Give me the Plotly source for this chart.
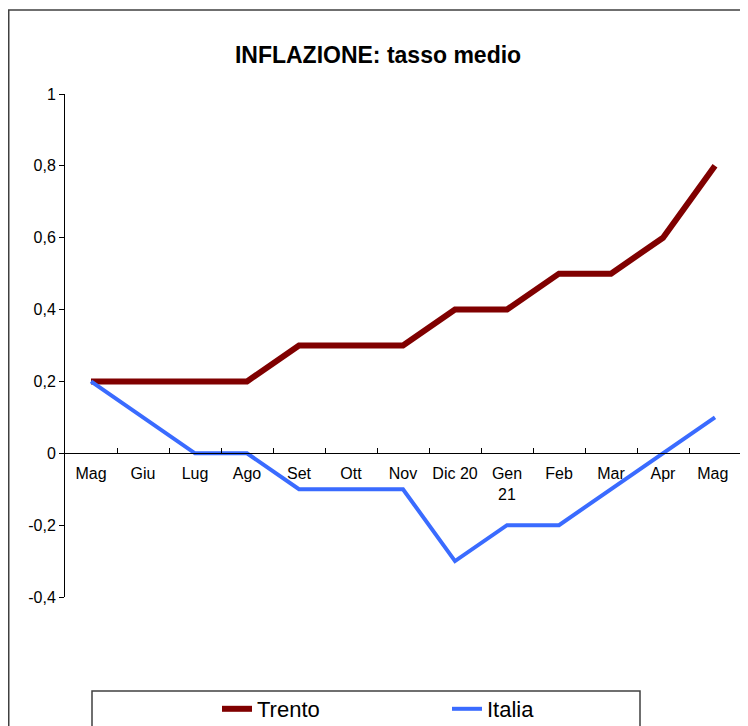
import plotly.graph_objects as go

months = ["Mag", "Giu", "Lug", "Ago", "Set", "Ott", "Nov", "Dic 20", "Gen<br>21", "Feb", "Mar", "Apr", "Mag "]
trento = [0.2, 0.2, 0.2, 0.2, 0.3, 0.3, 0.3, 0.4, 0.4, 0.5, 0.5, 0.6, 0.8]
italia = [0.2, 0.1, 0.0, 0.0, -0.1, -0.1, -0.1, -0.3, -0.2, -0.2, -0.1, 0.0, 0.1]
ytick_vals = [-0.4, -0.2, 0, 0.2, 0.4, 0.6, 0.8, 1]
ytick_text = ["-0,4", "-0,2", "0", "0,2", "0,4", "0,6", "0,8", "1"]

OFF = 8  # page offset of the figure in the browser window
W, H = 748, 726
L, R, T, B = 65 - OFF, 741 - OFF, 94 - OFF, 597 - OFF
ymin, ymax = -0.4, 1.0

def px_x(p):
    p = p - OFF
    return (p - L) / (R - L)

def px_y(p):
    p = p - OFF
    return (B - p) / (B - T)

fig = go.Figure()
fig.add_trace(go.Scatter(x=months, y=trento, mode="lines", name="Trento",
                         line=dict(color="#800000", width=6)))
fig.add_trace(go.Scatter(x=months, y=italia, mode="lines", name="Italia",
                         line=dict(color="#3A6BFF", width=4)))

xpos = (0 - ymin) / (ymax - ymin)

fig.update_layout(
    width=W, height=H,
    margin=dict(l=L, r=W - R, t=T, b=H - B, autoexpand=False),
    paper_bgcolor="white", plot_bgcolor="white",
    font=dict(family="Arial, Liberation Sans, sans-serif", color="black", size=16),
    title=dict(text="<b>INFLAZIONE: tasso medio</b>", x=(378 - OFF) / W, xanchor="center",
               y=1 - (55 - OFF) / H, yanchor="middle", font=dict(size=23)),
    showlegend=True,
    legend=dict(orientation="h", x=px_x(217), xanchor="left", y=px_y(709), yanchor="middle",
                font=dict(size=22), entrywidth=185, entrywidthmode="pixels",
                bgcolor="rgba(0,0,0,0)", borderwidth=0, tracegroupgap=0),
    xaxis=dict(type="category", range=[-0.5, 12.5], showline=True, linecolor="black",
               linewidth=1, ticks="inside", ticklen=5, tickcolor="black",
               tickson="boundaries", showgrid=False, zeroline=False,
               anchor="free", position=xpos, tickfont=dict(size=16),
               tickangle=0, ticklabelstandoff=6),
    yaxis=dict(range=[ymin, ymax], tickvals=ytick_vals, ticktext=ytick_text,
               showline=True, linecolor="black", linewidth=1, ticks="outside",
               ticklen=5, tickcolor="black", showgrid=False, zeroline=False,
               tickfont=dict(size=16)),
    shapes=[
        dict(type="rect", xref="paper", yref="paper",
             x0=px_x(8.75), x1=px_x(770), y0=px_y(750), y1=px_y(10),
             line=dict(color="#404040", width=1.5), fillcolor="rgba(0,0,0,0)", layer="below"),
        dict(type="rect", xref="paper", yref="paper",
             x0=px_x(92), x1=px_x(640), y0=px_y(750), y1=px_y(691),
             line=dict(color="#404040", width=1.5), fillcolor="rgba(0,0,0,0)", layer="below"),
    ],
)

fig.write_html("out.html")
